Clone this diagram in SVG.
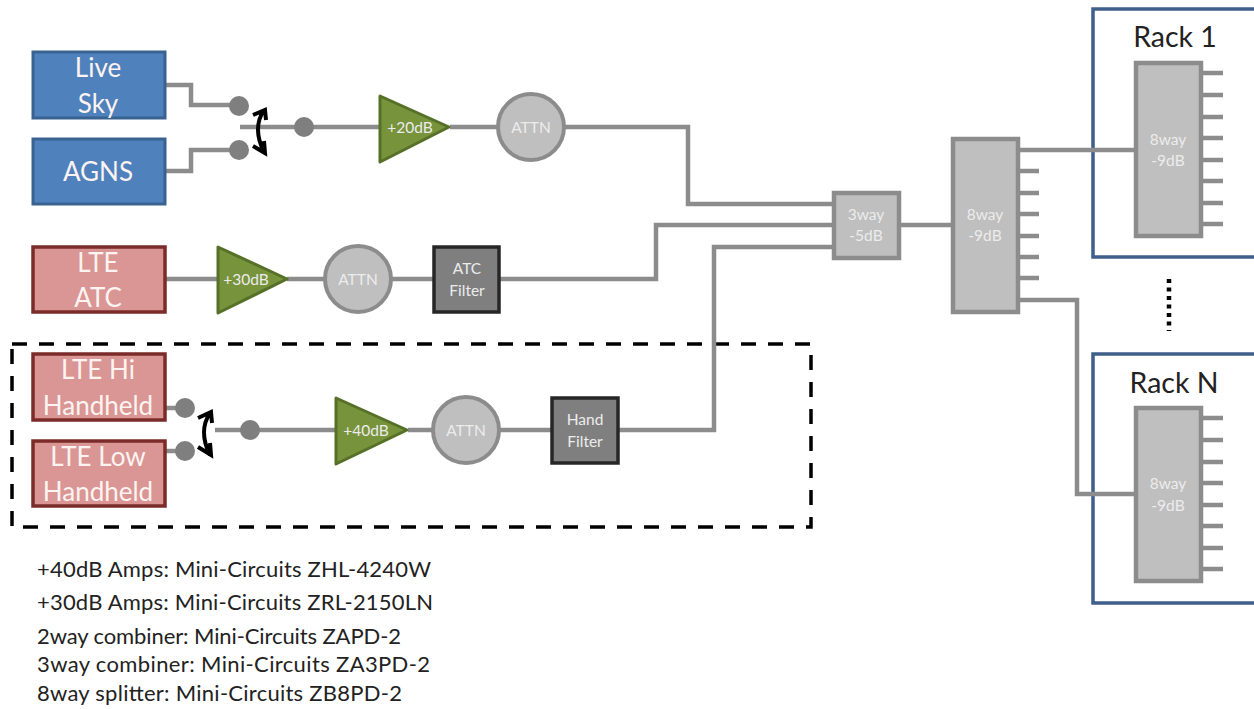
<svg xmlns="http://www.w3.org/2000/svg" width="1254" height="709" viewBox="0 0 1254 709">
<style>
text{font-family:Lato,"Open Sans","Liberation Sans",sans-serif;text-anchor:middle}
.w{stroke:#8c8c8c;stroke-width:4.5;fill:none}
.blue{fill:#4f81bd;stroke:#3a6291;stroke-width:3}
.red{fill:#d99694;stroke:#7b2c2a;stroke-width:3.5}
.amp{fill:#77933c;stroke:#567028;stroke-width:3;stroke-linejoin:round}
.att{fill:#bfbfbf;stroke:#8c8c8c;stroke-width:4}
.fil{fill:#7f7f7f;stroke:#262626;stroke-width:3.5}
.spl{fill:#bfbfbf;stroke:#8c8c8c;stroke-width:4.5}
.dot{fill:#7f7f7f}
.rack{fill:#fff;stroke:#3f5f8a;stroke-width:3.5}
.t24{font-size:26px;fill:#fdf3f0}
.t14{font-size:15.5px;fill:#ececec}
.rk{font-size:28.5px;fill:#222}
.note{font-size:22px;fill:#222;text-anchor:start}
.arc{stroke:#000;stroke-width:4;fill:none}
</style>
<g id="rack1"><rect class="rack" x="1093" y="9" width="175" height="248"/><text class="rk" x="1175" y="47">Rack 1</text></g>
<g id="rackN"><rect class="rack" x="1093" y="354" width="175" height="249"/><text class="rk" x="1174" y="393">Rack N</text></g>
<g id="group-box"><rect x="12" y="344" width="799" height="183" fill="none" stroke="#000" stroke-width="3.5" stroke-dasharray="15 12"/></g>
<g id="connectors">
<path class="w" d="M165 85H191V105H239M165 171H191V150H239M240 127H379M450 127H498M565 127H688V204H834M165 279H218M287 279H325M392 279H434M500 279H656V225H834M165 408H185M165 451H185M215 430H336M408 430H433M499 430H552M619 430H714V247H834M900 225H952M1018 150H1136M1018 300H1077V494H1136"/>
<path class="w" d="M1018 171H1039M1018 193H1039M1018 214H1039M1018 236H1039M1018 257H1039M1018 278H1039"/>
<path class="w" d="M1202 73H1223M1202 95H1223M1202 117H1223M1202 138H1223M1202 160H1223M1202 181H1223M1202 203H1223M1202 224H1223"/>
<path class="w" d="M1202 418H1223M1202 440H1223M1202 462H1223M1202 483H1223M1202 505H1223M1202 526H1223M1202 548H1223M1202 569H1223"/>
<path d="M1169 279V331" fill="none" stroke="#000" stroke-width="4.5" stroke-dasharray="4 4.5"/>
</g>
<g id="live-sky"><rect class="blue" x="33" y="52" width="132" height="66"/><text class="t24" x="98" y="77">Live</text><text class="t24" x="98" y="113">Sky</text></g>
<g id="agns"><rect class="blue" x="33" y="139" width="132" height="65"/><text class="t24" x="98" y="181">AGNS</text></g>
<g id="lte-atc"><rect class="red" x="33" y="247" width="132" height="65"/><text class="t24" x="98" y="272">LTE</text><text class="t24" x="98" y="307">ATC</text></g>
<g id="lte-hi"><rect class="red" x="33" y="354" width="132" height="66"/><text class="t24" x="98" y="379">LTE Hi</text><text class="t24" x="98" y="415">Handheld</text></g>
<g id="lte-low"><rect class="red" x="33" y="441" width="132" height="65"/><text class="t24" x="98" y="466">LTE Low</text><text class="t24" x="98" y="501">Handheld</text></g>
<g id="switch1"><circle class="dot" cx="239" cy="106" r="10"/><circle class="dot" cx="239" cy="150" r="10"/><circle class="dot" cx="304" cy="127" r="10"/><path class="arc" d="M264 110Q252 128 264 152M253 115L265 110L266 120M253 146L265 153L264 141"/></g>
<g id="switch2"><circle class="dot" cx="185" cy="408" r="10"/><circle class="dot" cx="185" cy="451" r="10"/><circle class="dot" cx="250" cy="430" r="10"/><path class="arc" d="M210 413Q198 431 210 455M198 418L211 412L212 423M198 447L211 455L210 443"/></g>
<g id="amp20"><polygon class="amp" points="380,96 449,127 380,162"/><text class="t14" x="410" y="133">+20dB</text></g>
<g id="amp30"><polygon class="amp" points="218,247 287,279 218,313"/><text class="t14" x="246" y="285">+30dB</text></g>
<g id="amp40"><polygon class="amp" points="336,398 407,430 336,464"/><text class="t14" x="366" y="436">+40dB</text></g>
<g id="attn1"><circle class="att" cx="531" cy="127" r="33"/><text class="t14" x="531" y="133">ATTN</text></g>
<g id="attn2"><circle class="att" cx="358" cy="279" r="33"/><text class="t14" x="358" y="285">ATTN</text></g>
<g id="attn3"><circle class="att" cx="466" cy="430" r="33"/><text class="t14" x="466" y="436">ATTN</text></g>
<g id="atc-filter"><rect class="fil" x="434" y="247" width="65" height="65"/><text class="t14" x="467" y="274">ATC</text><text class="t14" x="467" y="296">Filter</text></g>
<g id="hand-filter"><rect class="fil" x="552" y="398" width="66" height="65"/><text class="t14" x="585" y="425">Hand</text><text class="t14" x="585" y="447">Filter</text></g>
<g id="way3"><rect class="spl" x="834" y="193" width="65" height="65"/><text class="t14" x="866" y="220">3way</text><text class="t14" x="866" y="241">-5dB</text></g>
<g id="way8"><rect class="spl" x="953" y="139" width="65" height="173"/><text class="t14" x="985" y="220">8way</text><text class="t14" x="985" y="241">-9dB</text></g>
<g id="way8-rack1"><rect class="spl" x="1136" y="63" width="65" height="173"/><text class="t14" x="1168" y="145">8way</text><text class="t14" x="1168" y="166">-9dB</text></g>
<g id="way8-rackN"><rect class="spl" x="1136" y="408" width="65" height="173"/><text class="t14" x="1168" y="489">8way</text><text class="t14" x="1168" y="511">-9dB</text></g>
<g id="notes">
<text class="note" x="37" y="577" textLength="394">+40dB Amps: Mini-Circuits ZHL-4240W</text>
<text class="note" x="37" y="610" textLength="396">+30dB Amps: Mini-Circuits ZRL-2150LN</text>
<text class="note" x="37" y="644" textLength="364">2way combiner:  Mini-Circuits ZAPD-2</text>
<text class="note" x="37" y="672" textLength="393">3way combiner:  Mini-Circuits ZA3PD-2</text>
<text class="note" x="37" y="701" textLength="365">8way splitter:  Mini-Circuits ZB8PD-2</text>
</g>
</svg>
